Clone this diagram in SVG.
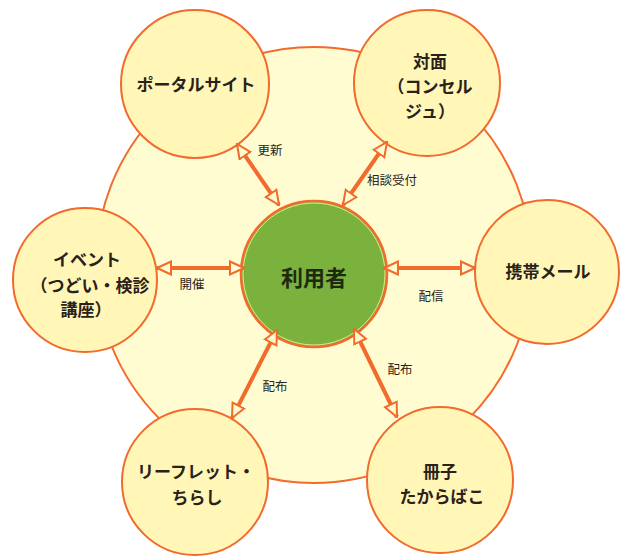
<svg xmlns="http://www.w3.org/2000/svg" width="628" height="560" viewBox="0 0 628 560">
<style>
.sat{fill:#fff6b8;stroke:#f26a2c;stroke-width:2}
.nt{font-family:"Noto Sans CJK JP","Noto Sans",sans-serif;font-size:17px;font-weight:bold;fill:#2a2218;text-anchor:middle}
.lb{font-family:"Noto Sans CJK JP","Noto Sans",sans-serif;font-size:12.5px;fill:#2a2218;text-anchor:middle}
.cn{stroke:#f26a2c;stroke-width:4;fill:none;marker-start:url(#ah);marker-end:url(#ah)}
</style>
<defs>
<marker id="ah" markerUnits="userSpaceOnUse" markerWidth="16" markerHeight="16" viewBox="-1 -1 16 15" refX="14" refY="6.5" orient="auto-start-reverse">
<path d="M0,0 L14,6.5 L0,13 z" fill="#fffbd0" stroke="#f26a2c" stroke-width="2" stroke-linejoin="miter"/>
</marker>
</defs>
<rect width="628" height="560" fill="#ffffff"/>
<g id="bg"><circle cx="314" cy="265" r="218" fill="#fffcd2" stroke="#f26a2c" stroke-width="2"/></g>
<g id="portal"><circle class="sat" cx="195" cy="84" r="74"/><text class="nt" x="196" y="91">ポータルサイト</text></g>
<g id="taimen"><circle class="sat" cx="427" cy="83" r="73"/><text class="nt" x="430" y="68">対面</text><text class="nt" x="430" y="93">（コンセル</text><text class="nt" x="430" y="118">ジュ）</text></g>
<g id="event"><circle class="sat" cx="85" cy="280" r="72"/><text class="nt" x="87" y="266">イベント</text><text class="nt" x="90" y="292">（つどい・検診</text><text class="nt" x="86" y="316">講座）</text></g>
<g id="mail"><circle class="sat" cx="547" cy="272" r="72"/><text class="nt" x="548" y="278">携帯メール</text></g>
<g id="leaflet"><circle class="sat" cx="195" cy="482" r="73"/><text class="nt" x="196" y="478">リーフレット・</text><text class="nt" x="197" y="504">ちらし</text></g>
<g id="booklet"><circle class="sat" cx="440" cy="480" r="73"/><text class="nt" x="440" y="478">冊子</text><text class="nt" x="442" y="503">たからばこ</text></g>
<g id="user"><circle cx="314" cy="274" r="73" fill="#7bb23e" stroke="#f26a2c" stroke-width="2.5"/><circle cx="314" cy="274" r="71" fill="none" stroke="#dfe98a" stroke-width="1"/><text x="314" y="286" font-family="Noto Sans CJK JP,sans-serif" font-size="22" font-weight="bold" fill="#1e2a10" text-anchor="middle">利用者</text></g>
<g id="connectors">
<path class="cn" d="M237,144 L279,205"/>
<path class="cn" d="M387,142 L343,205"/>
<path class="cn" d="M157,268 L244,268"/>
<path class="cn" d="M384,268 L475,268"/>
<path class="cn" d="M277,330 L232,418"/>
<path class="cn" d="M354,329 L397,417"/>
</g>
<g id="labels">
<text class="lb" x="270" y="155">更新</text>
<text class="lb" x="392" y="185">相談受付</text>
<text class="lb" x="192" y="289">開催</text>
<text class="lb" x="431" y="301">配信</text>
<text class="lb" x="275" y="391">配布</text>
<text class="lb" x="400" y="374">配布</text>
</g>
</svg>
